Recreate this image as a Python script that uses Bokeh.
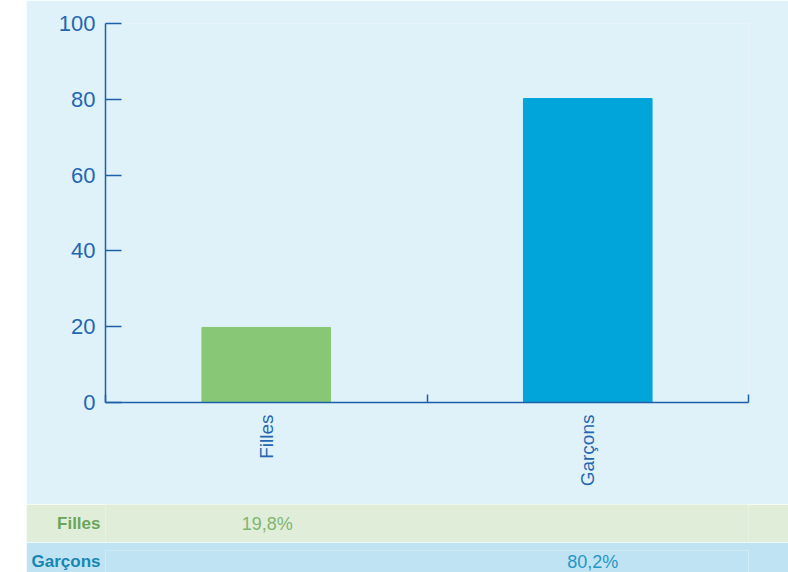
import math
from bokeh.plotting import figure
from bokeh.layouts import column, row
from bokeh.models import (FactorRange, Range1d, LinearAxis, FixedTicker, ColumnDataSource, Spacer)
from bokeh.core.properties import value
from bokeh.embed import file_html
from bokeh.resources import INLINE

# ---- data ----
categories = ["Filles", "Garçons"]
percentages = [19.8, 80.2]
bar_colors = ["#87c775", "#02a5da"]
y_ticks = [0, 20, 40, 60, 80, 100]
table_labels = ["Filles", "Garçons"]
table_texts = ["19,8%", "80,2%"]

BG = "#dff2fa"
AXIS = "#1d5fa9"
TXT = "#2566b0"
FONT = "Liberation Sans"
NARROW = "'Liberation Sans Narrow', 'Liberation Sans'"

W = 762
n = len(categories)
centers = [i + 0.5 for i in range(n)]
edges = list(range(n + 1))
xr = Range1d(0, n)

p = figure(width=W, height=504, x_range=xr, y_range=Range1d(0, 100),
           output_backend="svg", toolbar_location=None, x_axis_location=None,
           min_border_left=79, min_border_right=40, min_border_top=23, min_border_bottom=102)
p.background_fill_color = BG
p.border_fill_color = BG
p.outline_line_color = None
p.grid.visible = False

src = ColumnDataSource(dict(x=centers, top=percentages, color=bar_colors))
p.vbar(x="x", top="top", width=0.4, color="color", source=src)

# y axis
ya = p.yaxis[0]
ya.ticker = FixedTicker(ticks=y_ticks)
ya.major_tick_in = 16
ya.major_tick_out = 0
ya.minor_tick_line_color = None
ya.axis_line_color = AXIS
ya.axis_line_width = 1.5
ya.major_tick_line_color = AXIS
ya.major_tick_line_width = 1.5
ya.major_label_text_font = FONT
ya.major_label_text_font_size = "22px"
ya.major_label_text_color = TXT
ya.major_label_standoff = 10

# x axis: labels at category centres, minor ticks at category edges
xa = LinearAxis(ticker=FixedTicker(ticks=centers, minor_ticks=edges),
                major_label_overrides={c: lab for c, lab in zip(centers, categories)})
xa.axis_line_color = AXIS
xa.axis_line_width = 1.5
xa.major_tick_line_color = None
xa.major_tick_in = 0
xa.major_tick_out = 0
xa.minor_tick_line_color = AXIS
xa.minor_tick_line_width = 1.5
xa.minor_tick_in = 8
xa.minor_tick_out = 0
xa.major_label_orientation = math.pi / 2
xa.major_label_text_font = FONT
xa.major_label_text_font_size = "19px"
xa.major_label_text_color = TXT
xa.major_label_standoff = 12
p.add_layout(xa, "below")

# ---- table rows ----
row_styles = [
    dict(bg="#e0eed9", lab="#6ba55c", val="#7fb571", h=38, top=0, xoff=1),
    dict(bg="#bfe3f3", lab="#1787b0", val="#2597c5", h=30, top=8, xoff=5),
]
rows = []
for i, st in enumerate(row_styles):
    f = figure(width=W, height=st["h"], x_range=xr, y_range=FactorRange(factors=[table_labels[i]]),
               output_backend="svg", toolbar_location=None, x_axis_location=None,
               min_border_left=79, min_border_right=40, min_border_top=st["top"], min_border_bottom=0)
    f.background_fill_color = st["bg"]
    f.border_fill_color = st["bg"]
    f.outline_line_color = None
    f.grid.visible = False
    la = f.yaxis[0]
    la.axis_line_color = None
    la.major_tick_line_color = None
    la.major_tick_in = 0
    la.major_tick_out = 0
    la.major_label_text_font = NARROW
    la.major_label_text_font_style = "bold"
    la.major_label_text_font_size = "17px"
    la.major_label_text_color = st["lab"]
    la.major_label_standoff = 5
    s = ColumnDataSource(dict(x=[centers[i]], y=[table_labels[i]], t=[table_texts[i]]))
    f.text(x="x", y="y", text="t", source=s, text_align="center", text_baseline="middle",
           x_offset=st["xoff"],
           text_font=value(NARROW), text_font_size="18px", text_color=st["val"])
    rows.append(f)

layout = row(Spacer(width=26, height=572), column(p, *rows, spacing=0), spacing=0)

open("out.html", "w").write(file_html(layout, INLINE))
